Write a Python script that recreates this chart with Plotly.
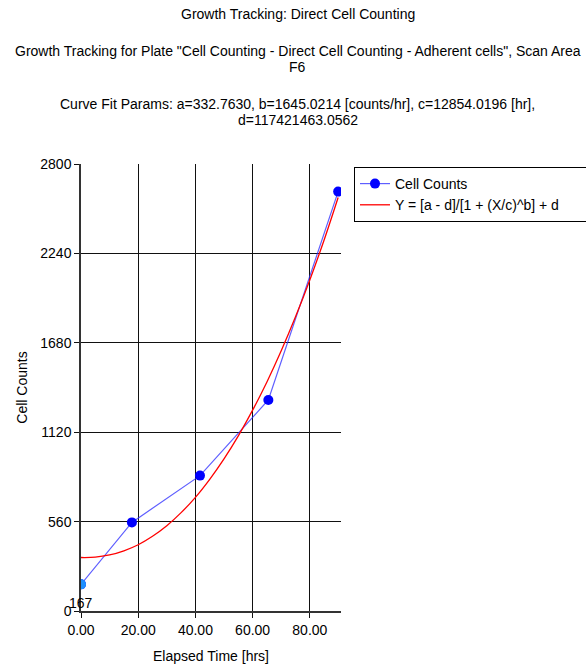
import plotly.graph_objects as go

elapsed_hrs = [0.0, 17.8, 41.6, 65.5, 89.9]
cell_counts = [167, 555, 848, 1322, 2627]

# Fitted curve
fit_hrs = [0, 5, 10, 15, 20, 25, 30, 35, 40, 45, 50, 55, 60, 65, 70, 75, 80, 85, 89.9]
fit_counts = [335, 337, 351, 377, 415, 468, 534, 616, 712, 825, 953, 1097, 1258, 1435,
              1630, 1843, 2074, 2324, 2590]

x_ticks = [0, 20, 40, 60, 80]
x_tick_labels = ["0.00", "20.00", "40.00", "60.00", "80.00"]
y_ticks = [0, 560, 1120, 1680, 2240, 2800]
y_tick_labels = ["0", "560", "1120", "1680", "2240", "2800"]

first_label = "167"

title_lines = [
    "Growth Tracking: Direct Cell Counting",
    'Growth Tracking for Plate "Cell Counting - Direct Cell Counting - Adherent cells", Scan Area',
    "F6",
    "Curve Fit Params: a=332.7630, b=1645.0214 [counts/hr], c=12854.0196 [hr],",
    "d=117421463.0562",
]
title_sizes = [14, 14, 14, 14, 14]

FONT = "Liberation Sans, Arial, sans-serif"
FS = 14

fig = go.Figure()
fig.add_trace(go.Scatter(
    x=elapsed_hrs, y=cell_counts, mode="lines+markers", name="Cell Counts",
    line=dict(color="rgba(40,40,255,0.75)", width=1.2),
    marker=dict(color="#0000FF", size=10, line=dict(width=0)),
))
fig.add_trace(go.Scatter(
    x=elapsed_hrs[:1], y=cell_counts[:1], mode="markers", showlegend=False,
    marker=dict(color="#1E90FF", size=10, line=dict(width=0)),
))
fig.add_trace(go.Scatter(
    x=fit_hrs, y=fit_counts, mode="lines",
    name="Y = [a - d]/[1 + (X/c)^b] + d" + "&nbsp;" * 8,
    line=dict(color="#FF0000", width=1.3, shape="spline"),
))

W, H = 586, 666
L, R, T, B = 81, 341, 164, 611
pw, ph = R - L, B - T

def px_x(p):
    return (p - L) / pw

def px_y(p):
    return (B - p) / ph

cx = px_x(297.5)
for txt, py, fs in zip(title_lines, [14, 51, 67, 104, 120], title_sizes):
    fig.add_annotation(text=txt, xref="paper", yref="paper", x=cx, y=px_y(py),
                       showarrow=False, xanchor="center", yanchor="middle",
                       font=dict(size=fs, color="#000", family=FONT))
fig.add_annotation(text=first_label, x=elapsed_hrs[0], y=cell_counts[0], xref="x", yref="y",
                   showarrow=False, yshift=-19, font=dict(size=FS, color="#000", family=FONT))

fig.update_layout(
    width=W, height=H,
    margin=dict(l=L, r=W - R, t=T, b=H - B, pad=0, autoexpand=False),
    paper_bgcolor="white", plot_bgcolor="white",
    font=dict(family=FONT, size=FS, color="#000"),
    showlegend=True,
    legend=dict(x=px_x(354), y=px_y(167), xanchor="left", yanchor="top",
                bordercolor="#000", borderwidth=1, bgcolor="white",
                font=dict(size=FS, family=FONT), tracegroupgap=0),
    xaxis=dict(range=[0, 90.9], tickvals=x_ticks, ticktext=x_tick_labels,
               showgrid=True, gridcolor="#111", gridwidth=1,
               showline=True, linecolor="#333", linewidth=1.5,
               ticks="outside", ticklen=5, tickcolor="#111",
               zeroline=False,
               title=dict(text="Elapsed Time [hrs]", standoff=15, font=dict(size=FS))),
    yaxis=dict(range=[0, 2800], tickvals=y_ticks, ticktext=y_tick_labels,
               showgrid=True, gridcolor="#111", gridwidth=1,
               showline=True, linecolor="#333", linewidth=1.5,
               ticks="outside", ticklen=5, tickcolor="#111",
               zeroline=False,
               title=dict(text="Cell Counts", standoff=9, font=dict(size=FS))),
)

fig.write_html("out.html", config={"displayModeBar": False},
               post_script="document.body.style.margin='0';document.body.style.overflow='hidden';")
